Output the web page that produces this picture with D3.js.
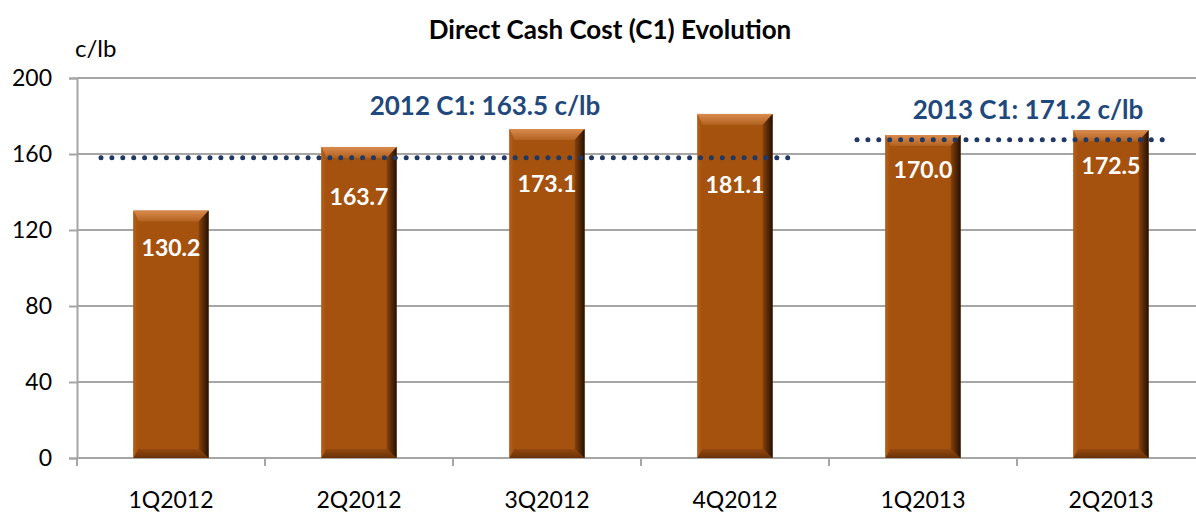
<!DOCTYPE html>
<html>
<head>
<meta charset="utf-8">
<script src="https://cdn.jsdelivr.net/npm/d3@7"></script>
<style>
body { margin: 0; background: #fff; }
text { font-family: Lato, "Open Sans", sans-serif; }
</style>
</head>
<body>
<script>
// data
var quarters = ["1Q2012", "2Q2012", "3Q2012", "4Q2012", "1Q2013", "2Q2013"];
var c1Values = [130.2, 163.7, 173.1, 181.1, 170.0, 172.5];
var yTicks = [0, 40, 80, 120, 160, 200];
var avgLabels = ["2012 C1: 163.5 c/lb", "2013 C1: 171.2 c/lb"];
var avgLevels = [158, 167.5];          // where the dotted lines sit in the picture
var avgSpans = [["1Q2012", "4Q2012"], ["1Q2013", "2Q2013"]];

var width = 1196, height = 512;
var plotLeft = 77, plotRight = 1205, plotTop = 78, plotBottom = 458;
// how far below each bar top its value label sits (labels dodge the dotted line)
var labelDrop = [45, 58, 63, 79, 43, 44];

var svg = d3.select("body").append("svg")
    .attr("width", width)
    .attr("height", height);

var defs = svg.append("defs");
var g1 = defs.append("linearGradient").attr("id", "topBevel")
    .attr("x1", 0).attr("y1", 0).attr("x2", 0).attr("y2", 1);
g1.append("stop").attr("offset", "0%").attr("stop-color", "#d98b4e");
g1.append("stop").attr("offset", "100%").attr("stop-color", "#b2621f");
var g2 = defs.append("linearGradient").attr("id", "rightBevel")
    .attr("x1", 0).attr("y1", 0).attr("x2", 1).attr("y2", 0);
g2.append("stop").attr("offset", "0%").attr("stop-color", "#8a430c");
g2.append("stop").attr("offset", "100%").attr("stop-color", "#241003");
var g3 = defs.append("linearGradient").attr("id", "botBevel")
    .attr("x1", 0).attr("y1", 0).attr("x2", 0).attr("y2", 1);
g3.append("stop").attr("offset", "0%").attr("stop-color", "#93480e");
g3.append("stop").attr("offset", "100%").attr("stop-color", "#6a3208");
var g4 = defs.append("linearGradient").attr("id", "leftBevel")
    .attr("x1", 0).attr("y1", 0).attr("x2", 1).attr("y2", 0);
g4.append("stop").attr("offset", "0%").attr("stop-color", "#b45e1a");
g4.append("stop").attr("offset", "100%").attr("stop-color", "#a5520f");

// scales
var x = d3.scaleBand().domain(quarters).range([plotLeft, plotRight]).paddingInner(0.6).paddingOuter(0.3);
var xOuter = d3.scaleBand().domain(quarters).range([plotLeft, plotRight]);
var y = d3.scaleLinear().domain([0, 200]).range([plotBottom, plotTop]);

// gridlines
svg.append("g").selectAll("line")
    .data(yTicks.filter(d => d > 0))
    .enter().append("line")
    .attr("x1", plotLeft).attr("x2", width)
    .attr("y1", d => y(d)).attr("y2", d => y(d))
    .attr("stroke", "#a6a6a6").attr("stroke-width", 2);

// y axis
var yAxis = svg.append("g")
    .attr("transform", "translate(" + plotLeft + ",0)")
    .call(d3.axisLeft(y).tickValues(yTicks).tickSize(8).tickPadding(17));
yAxis.select(".domain").attr("stroke", "#a6a6a6").attr("stroke-width", 2);
yAxis.selectAll(".tick line").attr("stroke", "#a6a6a6").attr("stroke-width", 2);
yAxis.selectAll("text").attr("font-size", 23).attr("fill", "#000")
    .style("font-family", "Lato, sans-serif");

// x axis
var xAxisG = svg.append("g").attr("transform", "translate(0," + plotBottom + ")");
xAxisG.append("line").attr("x1", plotLeft).attr("x2", width)
    .attr("stroke", "#a6a6a6").attr("stroke-width", 2);
xAxisG.selectAll(".xt").data(quarters).enter().append("line")
    .attr("x1", d => xOuter(d)).attr("x2", d => xOuter(d))
    .attr("y1", 0).attr("y2", 8)
    .attr("stroke", "#a6a6a6").attr("stroke-width", 2);
xAxisG.selectAll(".xl").data(quarters).enter().append("text")
    .attr("x", d => xOuter(d) + xOuter.bandwidth() / 2)
    .attr("y", 50)
    .attr("text-anchor", "middle")
    .attr("font-size", 23)
    .text(d => d);

// bars with bevel
var bw = x.bandwidth(), bevT = 11, bevR = 10, bevB = 9, bevL = 5;
var bars = svg.append("g").selectAll("g")
    .data(quarters.map((q, i) => ({ q: q, v: c1Values[i], i: i })))
    .enter().append("g");

bars.append("rect")
    .attr("x", d => x(d.q)).attr("y", d => y(d.v))
    .attr("width", bw).attr("height", d => plotBottom - y(d.v))
    .attr("fill", "#a5520f");
// top bevel
bars.append("polygon").attr("fill", "url(#topBevel)")
    .attr("points", function(d) {
        var x0 = x(d.q), y0 = y(d.v);
        return [[x0, y0], [x0 + bw, y0], [x0 + bw - bevR, y0 + bevT], [x0 + bevL, y0 + bevT]].join(" ");
    });
// left bevel
bars.append("polygon").attr("fill", "url(#leftBevel)")
    .attr("points", function(d) {
        var x0 = x(d.q), y0 = y(d.v);
        return [[x0, y0], [x0 + bevL, y0 + bevT], [x0 + bevL, plotBottom - bevB], [x0, plotBottom]].join(" ");
    });
// bottom bevel
bars.append("polygon").attr("fill", "url(#botBevel)")
    .attr("points", function(d) {
        var x0 = x(d.q);
        return [[x0, plotBottom], [x0 + bevL, plotBottom - bevB], [x0 + bw - bevR, plotBottom - bevB], [x0 + bw, plotBottom]].join(" ");
    });
// right bevel
bars.append("polygon").attr("fill", "url(#rightBevel)")
    .attr("points", function(d) {
        var x0 = x(d.q), y0 = y(d.v);
        return [[x0 + bw, y0], [x0 + bw - bevR, y0 + bevT], [x0 + bw - bevR, plotBottom - bevB], [x0 + bw, plotBottom]].join(" ");
    });

// value labels
bars.append("text")
    .attr("x", d => x(d.q) + bw / 2)
    .attr("y", d => y(d.v) + labelDrop[d.i])
    .attr("text-anchor", "middle")
    .attr("font-size", 23).attr("font-weight", "bold")
    .attr("fill", "#fff")
    .text(d => d.v.toFixed(1));

// dotted average lines
avgLevels.forEach(function(lv, i) {
    var x1 = xOuter(avgSpans[i][0]) + (i == 0 ? 24 : 28);
    var x2 = xOuter(avgSpans[i][1]) + xOuter.bandwidth() - (i == 0 ? 36 : 32);
    svg.append("line")
        .attr("x1", x1).attr("x2", x2)
        .attr("y1", y(lv)).attr("y2", y(lv))
        .attr("stroke", "#1f3864").attr("stroke-width", 5)
        .attr("stroke-linecap", "round")
        .attr("stroke-dasharray", "0 10.9");
    svg.append("text")
        .attr("x", i == 0 ? 485 : 1028)
        .attr("y", y(lv) - (i == 0 ? 43 : 21))
        .attr("text-anchor", "middle")
        .attr("font-size", 26).attr("font-weight", "bold")
        .attr("fill", "#1f497d")
        .text(avgLabels[i]);
});

// title and unit
svg.append("text")
    .attr("x", 610).attr("y", 39)
    .attr("text-anchor", "middle")
    .attr("font-size", 26).attr("font-weight", "bold")
    .text("Direct Cash Cost (C1) Evolution");

svg.append("text")
    .attr("x", 75).attr("y", 57)
    .attr("font-size", 24)
    .text("c/lb");
</script>
</body>
</html>
